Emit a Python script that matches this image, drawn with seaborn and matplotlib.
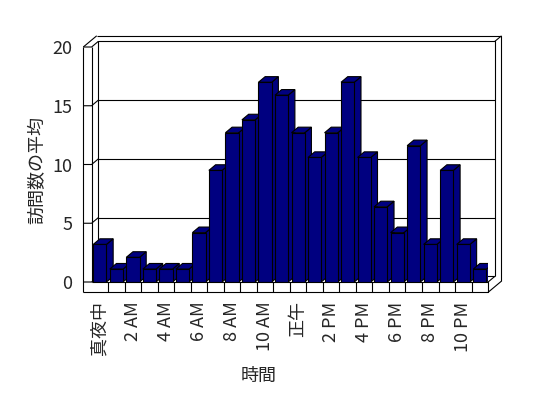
import matplotlib
matplotlib.use("Agg")
import matplotlib.pyplot as plt
from matplotlib.patches import Polygon
import seaborn as sns
import pandas as pd

# data
hours = [str(h) for h in range(24)]
visits = [3.2, 1.1, 2.1, 1.1, 1.1, 1.1, 4.2, 9.5, 12.7, 13.8, 17.0, 15.9,
          12.7, 10.6, 12.7, 17.0, 10.6, 6.4, 4.2, 11.6, 3.2, 9.5, 3.2, 1.1]
tick_labels = ["真夜中", "", "2 AM", "", "4 AM", "", "6 AM", "", "8 AM", "", "10 AM", "",
               "正午", "", "2 PM", "", "4 PM", "", "6 PM", "", "8 PM", "", "10 PM", ""]
y_ticks = [0, 5, 10, 15, 20]

sns.set_style("white")
plt.rcParams['font.family'] = ['Noto Sans CJK JP', 'DejaVu Sans']

W, H = 548, 398
fig = plt.figure(figsize=(W / 100, H / 100), dpi=100)
# front plane of the plot area, in pixels
left_px, right_px, top_px, base_px = 91.6, 488.1, 47.0, 282.0
ax = fig.add_axes([left_px / W, (H - base_px) / H,
                   (right_px - left_px) / W, (base_px - top_px) / H])

df = pd.DataFrame({"hour": hours, "visits": visits})
sns.barplot(data=df, x="hour", y="visits", color="#000080", saturation=1,
            width=0.8, edgecolor="black", linewidth=0.8, ax=ax)

x0, x1, y1 = -0.5, len(hours) - 0.5, 20
ax.set_xlim(x0, x1)
ax.set_ylim(0, y1)
for s in ax.spines.values():
    s.set_visible(False)
ax.set_xlabel("")
ax.set_ylabel("")
ax.set_yticks(y_ticks)
ax.set_yticklabels([str(v) for v in y_ticks], fontsize=13)
ax.set_xticks(range(len(hours)))
ax.set_xticklabels(tick_labels, rotation=90, fontsize=13, va="top")
ax.tick_params(axis="y", length=0, pad=14)
ax.tick_params(axis="x", length=0, pad=14)

# pixel offsets -> data units
fig.canvas.draw()
ux = ax.transData.transform((1, 0))[0] - ax.transData.transform((0, 0))[0]
uy = ax.transData.transform((0, 1))[1] - ax.transData.transform((0, 0))[1]
ddx, ddy = 6.7 / ux, 5.6 / uy
wl = 8.3 / ux
fl = 10.3 / uy

lw = 0.8
def seg(pts, z=1):
    xs, ys = zip(*pts)
    ax.plot(xs, ys, color="black", lw=lw, clip_on=False, zorder=z,
            solid_capstyle="butt")

# back wall gridlines
for v in y_ticks[:-1]:
    seg([(x0 + ddx, v + ddy), (x1 + ddx, v + ddy)])
# left wall ticks
for v in y_ticks:
    seg([(x0 - wl, v), (x0, v), (x0 + ddx, v + ddy)])

# left wall
seg([(x0 - wl, y1), (x0 - wl, -fl)])
seg([(x0, y1), (x0, 0)])
seg([(x0 - wl, y1), (x0 - wl + 2 * ddx, y1 + 2 * ddy)])
# back wall
seg([(x0 + ddx, ddy), (x0 + ddx, y1 + ddy), (x1 + ddx, y1 + ddy), (x1 + ddx, ddy)])
seg([(x0 - wl + 2 * ddx, y1 + 2 * ddy), (x1 + 2 * ddx, y1 + 2 * ddy),
     (x1 + 2 * ddx, -fl + 2 * ddy)])
seg([(x1 + ddx, y1 + ddy), (x1 + 2 * ddx, y1 + 2 * ddy)])
# floor
seg([(x0 - wl, -fl), (x1, -fl), (x1, 0), (x0, 0)], z=50)
seg([(x1, 0), (x1 + ddx, ddy)])
seg([(x1, -fl), (x1 + 2 * ddx, -fl + 2 * ddy)])
for k in range(1, len(hours)):
    seg([(k - 0.5, 0), (k - 0.5, -fl)])

# 3D sides and tops of the bars
for i, p in enumerate(ax.patches[:len(hours)]):
    x, w, h = p.get_x(), p.get_width(), p.get_height()
    z = 10 + 3 * i
    side = Polygon([(x + w, 0), (x + w + ddx, ddy), (x + w + ddx, h + ddy), (x + w, h)],
                   closed=True, facecolor="#000080", edgecolor="black", lw=lw, zorder=z)
    top = Polygon([(x, h), (x + ddx, h + ddy), (x + w + ddx, h + ddy), (x + w, h)],
                  closed=True, facecolor="#000080", edgecolor="black", lw=lw, zorder=z)
    ax.add_patch(side)
    ax.add_patch(top)
    p.set_zorder(z + 2)

fig.text(37.5 / W, 1 - 170 / H, "訪問数の平均", rotation=90, ha="center", va="center",
         fontsize=13)
fig.text(259 / W, 1 - 376 / H, "時間", ha="center", va="center", fontsize=13)

fig.savefig("out.png", dpi=100, facecolor="white")
